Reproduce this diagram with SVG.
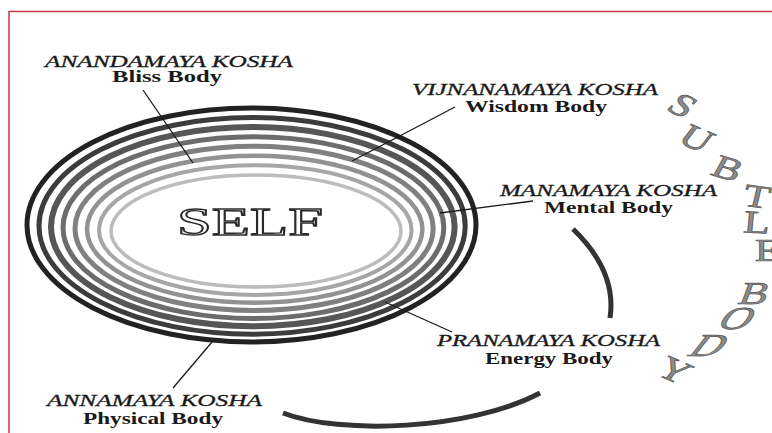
<svg xmlns="http://www.w3.org/2000/svg" width="772" height="433" viewBox="0 0 772 433">
<style>
.k{font-family:"Liberation Serif","Times New Roman",serif;font-style:italic;font-size:16px;fill:#1a1a1a;stroke:#1a1a1a;stroke-width:0.3}
.b{font-family:"Liberation Serif","Times New Roman",serif;font-weight:bold;font-size:16px;fill:#1a1a1a}
.ld{stroke:#1a1a1a;stroke-width:1.3;fill:none}
.arc{stroke:#333;stroke-width:5;fill:none;stroke-linecap:butt}
.r{fill:none}
.s{font-family:"Liberation Serif","Times New Roman",serif;font-size:32px;fill:#8c8c8c;stroke:#5a5a5a;stroke-width:0.7;text-anchor:middle}
.self{font-family:"Liberation Serif","Times New Roman",serif;font-size:40px;fill:#fff;stroke:#2a2a2a;stroke-width:1.4}
</style>
<rect x="0" y="0" width="772" height="433" fill="#fff"/>
<rect x="9" y="11.5" width="800" height="500" fill="none" stroke="#c23a45" stroke-width="1.5"/>

<g id="rings">
<ellipse class="r" cx="256" cy="231" rx="145" ry="56" stroke="#bcbcbc" stroke-width="3.5"/>
<ellipse class="r" cx="255.3" cy="230.1" rx="156.3" ry="64.8" stroke="#a6a6a6" stroke-width="4"/>
<ellipse class="r" cx="254.7" cy="229.3" rx="167.7" ry="73.5" stroke="#929292" stroke-width="4.5"/>
<ellipse class="r" cx="254.1" cy="228.4" rx="179.1" ry="82.2" stroke="#808080" stroke-width="5"/>
<ellipse class="r" cx="253.4" cy="227.6" rx="190.4" ry="90.9" stroke="#6c6c6c" stroke-width="5"/>
<ellipse class="r" cx="252.8" cy="226.7" rx="201.8" ry="99.6" stroke="#565656" stroke-width="6"/>
<ellipse class="r" cx="252.1" cy="225.9" rx="213.1" ry="108.3" stroke="#3c3c3c" stroke-width="5"/>
<ellipse class="r" cx="251.5" cy="225" rx="224.5" ry="117" stroke="#222" stroke-width="5"/>
</g>

<g id="self"><text class="self" x="177" y="235" textLength="146" lengthAdjust="spacingAndGlyphs">SELF</text></g>

<g id="connectors">
<line class="ld" x1="143" y1="90" x2="193" y2="163"/>
<line class="ld" x1="455" y1="107" x2="352" y2="161"/>
<line class="ld" x1="533" y1="201" x2="440" y2="213"/>
<line class="ld" x1="452" y1="332" x2="385" y2="302"/>
<line class="ld" x1="173" y1="388" x2="212" y2="342"/>
</g>

<g id="arcs">
<path class="arc" d="M573,229 C600,255 615,285 610,318"/>
<path class="arc" d="M283,413 C340,435 470,430 540,393"/>
</g>

<g id="anandamaya">
<text class="k" x="45" y="67" textLength="248" lengthAdjust="spacingAndGlyphs">ANANDAMAYA KOSHA</text>
<text class="b" x="112" y="82" textLength="110" lengthAdjust="spacingAndGlyphs">Bliss Body</text>
</g>
<g id="vijnanamaya">
<text class="k" x="412" y="95" textLength="246" lengthAdjust="spacingAndGlyphs">VIJNANAMAYA KOSHA</text>
<text class="b" x="465" y="112" textLength="142" lengthAdjust="spacingAndGlyphs">Wisdom Body</text>
</g>
<g id="manamaya">
<text class="k" x="500" y="196" textLength="217" lengthAdjust="spacingAndGlyphs">MANAMAYA KOSHA</text>
<text class="b" x="544" y="213" textLength="129" lengthAdjust="spacingAndGlyphs">Mental Body</text>
</g>
<g id="pranamaya">
<text class="k" x="437" y="346" textLength="223" lengthAdjust="spacingAndGlyphs">PRANAMAYA KOSHA</text>
<text class="b" x="485" y="364" textLength="128" lengthAdjust="spacingAndGlyphs">Energy Body</text>
</g>
<g id="annamaya">
<text class="k" x="47" y="406" textLength="215" lengthAdjust="spacingAndGlyphs">ANNAMAYA KOSHA</text>
<text class="b" x="83" y="424" textLength="140" lengthAdjust="spacingAndGlyphs">Physical Body</text>
</g>

<g id="subtle-body">
<text class="s" transform="translate(683,105) scale(1.35,1) rotate(35)" y="11">S</text>
<text class="s" transform="translate(697,138) scale(1.35,1) rotate(30)" y="11">U</text>
<text class="s" transform="translate(728,168) scale(1.35,1) rotate(22)" y="11">B</text>
<text class="s" transform="translate(757,196) scale(1.35,1) rotate(10)" y="11">T</text>
<text class="s" transform="translate(757,222) scale(1.35,1) rotate(4)" y="11">L</text>
<text class="s" transform="translate(768,250) scale(1.35,1)" y="11">E</text>
<text class="s" transform="translate(755,293) scale(1.35,1) skewX(-15)" y="11">B</text>
<text class="s" transform="translate(738,318) scale(1.35,1) skewX(-25)" y="11">O</text>
<text class="s" transform="translate(710,345) scale(1.35,1) skewX(-30)" y="11">D</text>
<text class="s" transform="translate(675,370) scale(1.35,1) rotate(30)" y="11">Y</text>
</g>
</svg>
